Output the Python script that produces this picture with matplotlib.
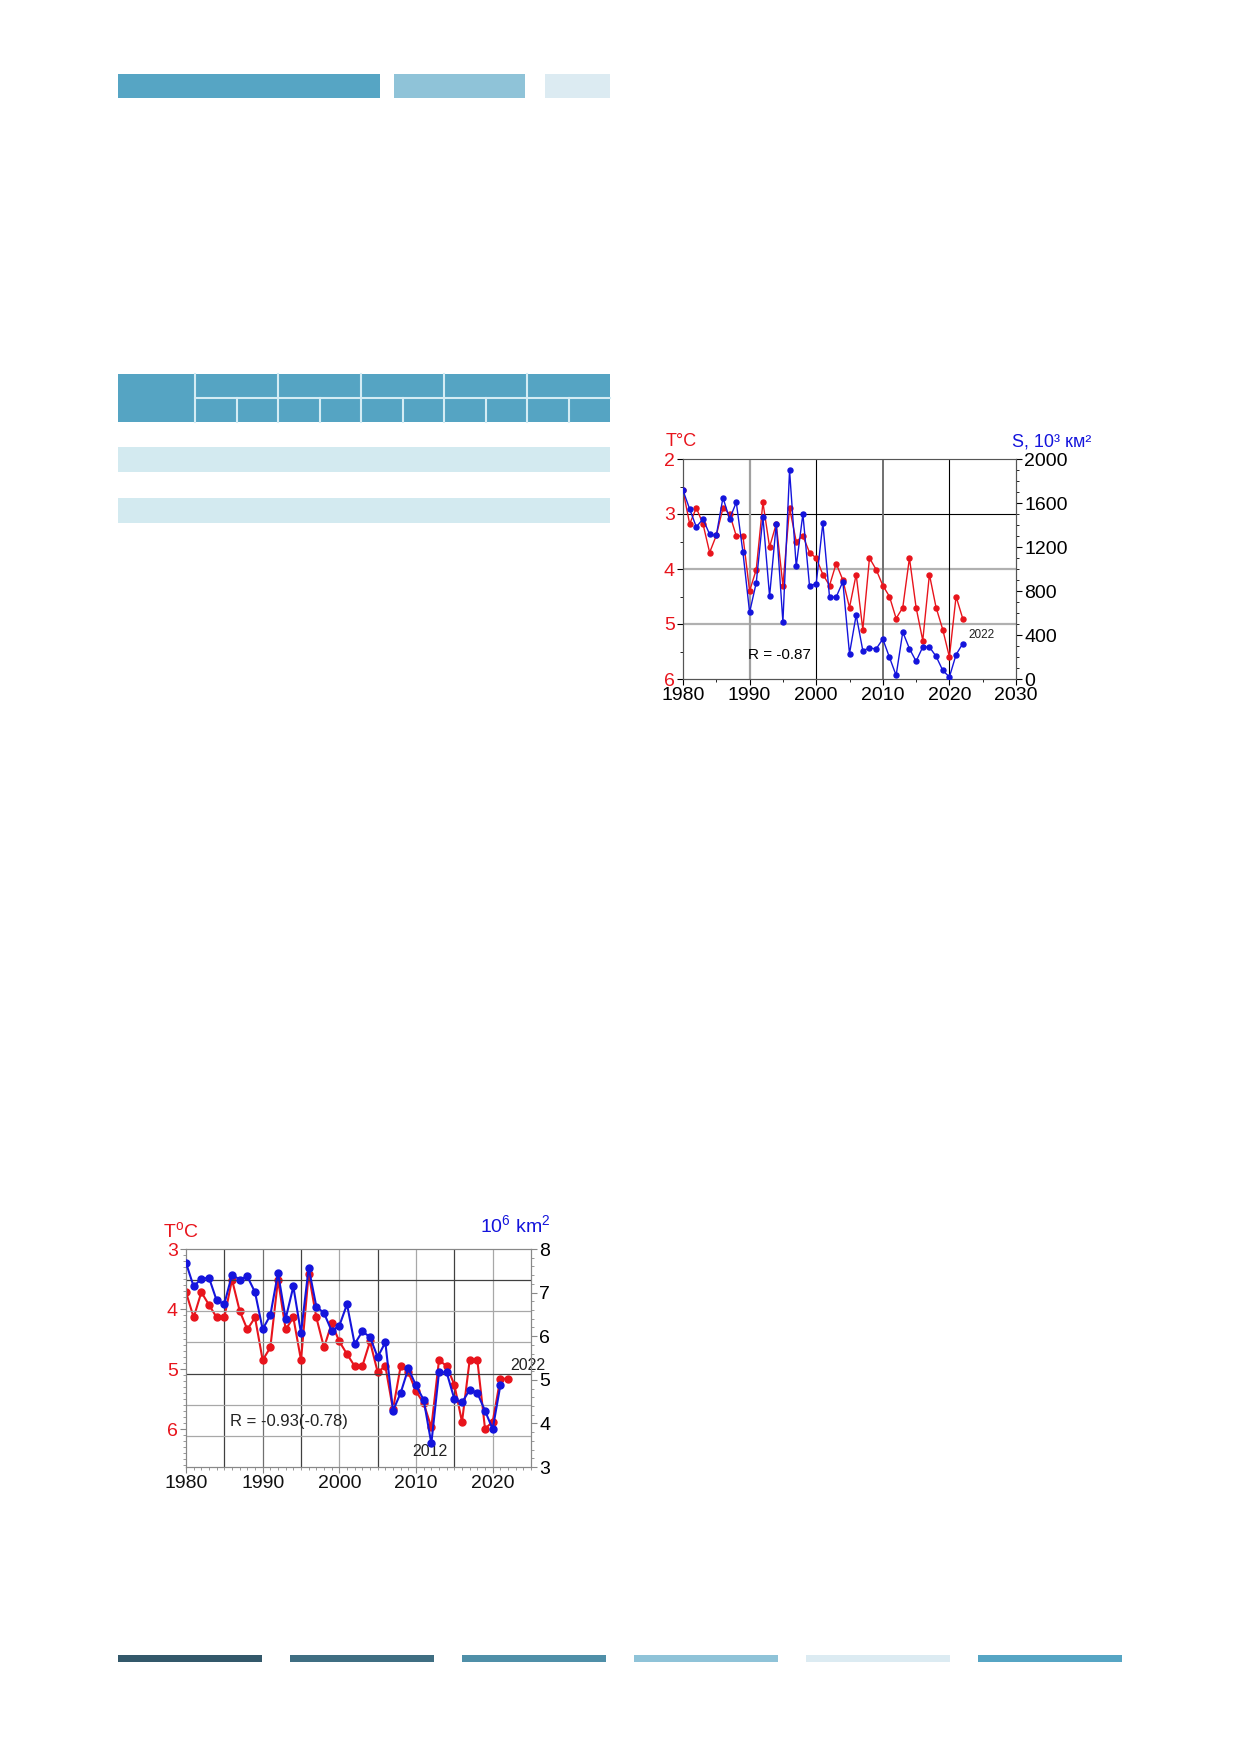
import numpy as np
import matplotlib
matplotlib.use('Agg')
import matplotlib.pyplot as plt
from matplotlib.patches import Rectangle
from matplotlib.ticker import MultipleLocator

plt.rcParams['font.family'] = ['Liberation Sans', 'DejaVu Sans']
plt.rcParams['mathtext.fontset'] = 'custom'
plt.rcParams['mathtext.rm'] = 'Liberation Sans'

W, H = 1240, 1754
RED = '#e8141c'
BLUE = '#1414dc'

# --- chart 1 (top right): T vs ice area S, 10^3 km2 ---
years1 = list(range(1980, 2023))
temp1 = [2.57, 3.18, 2.89, 3.18, 3.70, 3.39, 2.89, 3.00, 3.40, 3.40,
         4.40, 4.01, 2.79, 3.60, 3.18, 4.30, 2.89, 3.50, 3.40, 3.70,
         3.80, 4.10, 4.30, 3.90, 4.20, 4.70, 4.10, 5.10, 3.80, 4.01,
         4.30, 4.50, 4.90, 4.70, 3.80, 4.70, 5.30, 4.10, 4.70, 5.10,
         5.60, 4.50, 4.90]
area1 = [1715, 1545, 1382, 1455, 1315, 1306, 1648, 1455, 1606, 1152,
         606, 876, 1473, 752, 1409, 518, 1897, 1024, 1500, 845,
         867, 1418, 745, 745, 885, 230, 582, 258, 282, 273,
         364, 197, 33, 427, 276, 161, 291, 291, 206, 79,
         18, 221, 321]
r_label1 = 'R = -0.87'

# --- chart 2 (bottom left): T vs ice extent, 10^6 km2 ---
years2_t = list(range(1980, 2023))
temp2 = [3.72, 4.14, 3.72, 3.93, 4.14, 4.14, 3.51, 4.03, 4.34, 4.14,
         4.85, 4.64, 3.51, 4.34, 4.14, 4.85, 3.41, 4.14, 4.64, 4.24,
         4.54, 4.75, 4.95, 4.95, 4.54, 5.05, 4.95, 5.67, 4.95, 5.05,
         5.37, 5.57, 5.97, 4.85, 4.95, 5.26, 5.88, 4.85, 4.85, 5.99,
         5.88, 5.16, 5.16]
years2_s = list(range(1980, 2022))
area2 = [7.68, 7.14, 7.32, 7.34, 6.82, 6.74, 7.41, 7.30, 7.37, 7.01,
         6.16, 6.48, 7.45, 6.40, 7.14, 6.07, 7.57, 6.68, 6.53, 6.12,
         6.24, 6.73, 5.82, 6.11, 5.98, 5.52, 5.86, 4.29, 4.70, 5.26,
         4.87, 4.54, 3.54, 5.17, 5.17, 4.56, 4.48, 4.77, 4.70, 4.29,
         3.87, 4.87]
r_label2 = 'R = -0.93(-0.78)'

# page decoration colours
top_bars = [(118, 74, 262, 24, '#56a5c4'), (394, 74, 131, 24, '#8fc3d8'),
            (545, 74, 65, 24, '#dcebf2')]
bottom_colors = ['#33586a', '#3f6e82', '#4f8fa8', '#8fc3d8', '#dcebf2', '#56a5c4']


def px_rect(fig, x, y, w, h, color, **kw):
    # rectangle in page pixels (y from top)
    fig.add_artist(Rectangle((x / W, 1 - (y + h) / H), w / W, h / H,
                             transform=fig.transFigure, facecolor=color,
                             edgecolor='none', **kw))


def px_axes(fig, left, top, right, bottom):
    return fig.add_axes([left / W, 1 - bottom / H, (right - left) / W, (bottom - top) / H])


def draw_page(fig):
    for x, y, w, h, c in top_bars:
        px_rect(fig, x, y, w, h, c)
    # table header
    px_rect(fig, 118, 374, 492, 48, '#55a4c3')
    line = '#d4ecf4'
    fig.add_artist(plt.Line2D([195 / W, 610 / W], [1 - 397.5 / H] * 2, color=line, lw=1.5))
    for xv in [195, 278, 361, 444, 527]:
        fig.add_artist(plt.Line2D([xv / W] * 2, [1 - 374 / H, 1 - 422 / H], color=line, lw=1.5))
    for xv in [237, 320, 403, 486, 569]:
        fig.add_artist(plt.Line2D([xv / W] * 2, [1 - 397.5 / H, 1 - 422 / H], color=line, lw=1.5))
    px_rect(fig, 118, 447, 492, 25, '#d3eaf0')
    px_rect(fig, 118, 498, 492, 25, '#d3eaf0')
    for i, c in enumerate(bottom_colors):
        px_rect(fig, 118 + i * 172, 1655, 144, 6.5, c)


def style_ticks(ax, size):
    ax.tick_params(which='major', direction='out', length=4, width=0.8, labelsize=size, pad=2)
    ax.tick_params(which='minor', direction='out', length=2.5, width=0.6)


def chart_one(fig):
    ax = px_axes(fig, 683, 459, 1016, 679)
    ax2 = ax.twinx()
    ax.set_xlim(1980, 2030)
    ax.set_ylim(6, 2)
    ax2.set_ylim(0, 2000)

    for t, c, lw in [(3, 'black', 0.8), (4, '#b0b0b0', 1.6), (5, '#b0b0b0', 1.6)]:
        ax.axhline(t, color=c, lw=lw, zorder=0)
    for yr, c, lw in [(1990, '#a0a0a0', 1.6), (2000, 'black', 0.8),
                      (2010, '#707070', 1.4), (2020, 'black', 0.8)]:
        ax.axvline(yr, color=c, lw=lw, zorder=0)

    ax.plot(years1, temp1, color=RED, lw=1.0, marker='o', ms=3.6, zorder=3)
    ax2.plot(years1, area1, color=BLUE, lw=1.0, marker='o', ms=3.6, zorder=3)

    ax.xaxis.set_major_locator(MultipleLocator(10))
    ax.xaxis.set_minor_locator(MultipleLocator(5))
    ax.yaxis.set_major_locator(MultipleLocator(1))
    ax.yaxis.set_minor_locator(MultipleLocator(0.5))
    ax2.yaxis.set_major_locator(MultipleLocator(400))
    ax2.yaxis.set_minor_locator(MultipleLocator(100))
    style_ticks(ax, 14)
    style_ticks(ax2, 14)
    ax.tick_params(axis='y', labelcolor=RED)
    for s in ['top', 'right', 'left', 'bottom']:
        ax.spines[s].set_color('#555555')
        ax2.spines[s].set_color('#555555')
    ax.spines['top'].set_color('#bbbbbb')

    ax.text(1989.8, 5.56, r_label1, fontsize=11, va='center', ha='left')
    ax.text(2022.8, 5.2, '2022', fontsize=8.5, va='center', ha='left', color='#222222')
    fig.text(666 / W, 1 - 442 / H, 'T\u00b0C', color=RED, fontsize=13, va='center', ha='left')
    fig.text(1091 / W, 1 - 442 / H, 'S, 10\u00b3 \u043a\u043c\u00b2', color=BLUE,
             fontsize=13, va='center', ha='right')


def chart_two(fig):
    ax = px_axes(fig, 186, 1249, 531, 1467)
    ax2 = ax.twinx()
    ax.set_xlim(1980, 2025)
    ax.set_ylim(6.63, 3)
    ax2.set_ylim(3, 8)

    dark, grey = '#404040', '#a8a8a8'
    for k in range(1, 7):
        c = dark if k in (3, 6) else grey
        ax2.axhline(3 + 5 * k / 7, color=c, lw=0.9, zorder=0)
    for yr in range(1985, 2025, 5):
        c = dark if yr in (1985, 1995, 2005, 2015) else ('#707070' if yr == 1990 else grey)
        ax.axvline(yr, color=c, lw=0.9, zorder=0)

    ax.plot(years2_t, temp2, color=RED, lw=1.5, marker='o', ms=5, zorder=3)
    ax2.plot(years2_s, area2, color=BLUE, lw=1.5, marker='o', ms=5, zorder=3)

    ax.xaxis.set_major_locator(MultipleLocator(10))
    ax.xaxis.set_minor_locator(MultipleLocator(1))
    ax.yaxis.set_major_locator(MultipleLocator(1))
    ax.yaxis.set_minor_locator(MultipleLocator(0.1))
    ax2.yaxis.set_major_locator(MultipleLocator(1))
    ax2.yaxis.set_minor_locator(MultipleLocator(0.2))
    style_ticks(ax, 14)
    style_ticks(ax2, 14)
    ax.tick_params(axis='y', which='both', colors='#888888', labelcolor=RED)
    ax2.tick_params(axis='y', which='both', colors='#888888', labelcolor='black')
    ax.tick_params(axis='x', which='both', colors='#888888', labelcolor='#111111')
    for s in ['top', 'right', 'left', 'bottom']:
        ax.spines[s].set_color('#888888')
        ax2.spines[s].set_color('#888888')

    ax.text(1985.7, 5.88, r_label2, fontsize=12, va='center', ha='left', color='#222222')
    ax.text(2011.8, 6.38, '2012', fontsize=11.5, va='center', ha='center', color='#222222')
    ax.text(2022.3, 4.94, '2022', fontsize=11.5, va='center', ha='left', color='#222222')
    fig.text(163 / W, 1 - 1232 / H, r'T$^{\mathrm{o}}$C', color=RED, fontsize=14,
             va='center', ha='left')
    fig.text(551 / W, 1 - 1226 / H, r'10$^{\mathrm{6}}$ km$^{\mathrm{2}}$', color=BLUE,
             fontsize=14, va='center', ha='right')


if __name__ == '__main__':
    fig = plt.figure(figsize=(W / 100, H / 100), dpi=100)
    draw_page(fig)
    chart_one(fig)
    chart_two(fig)
    fig.savefig('out.png', dpi=100, facecolor='white')
